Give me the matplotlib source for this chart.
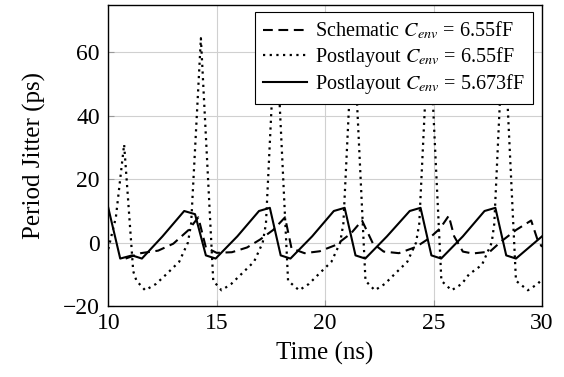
import matplotlib
matplotlib.use("Agg")
import matplotlib.pyplot as plt

plt.rcParams['font.family'] = ['Liberation Serif', 'DejaVu Serif']
plt.rcParams['mathtext.fontset'] = 'stix'

# Schematic C_env = 6.55fF (dashed)
t_sch = [10.8, 11.5, 12.3, 13.0, 13.7, 14.15, 14.5, 15.0, 15.7, 16.4, 17.0, 17.6,
         18.15, 18.45, 19.05, 19.75, 20.5, 21.2, 21.7, 22.2, 22.7, 23.4, 24.2, 24.8,
         25.3, 25.7, 25.95, 26.35, 26.8, 27.6, 28.1, 28.8, 29.5, 29.8, 30.0]
j_sch = [-5, -3.3, -2.5, -0.3, 4, 8, -1.5, -3.2, -3, -1.5, 1, 4,
         8, -1.8, -3.3, -2.7, -0.7, 3, 7, -0.2, -2.8, -3.3, -1.3, 1.4,
         4.5, 8.5, 2, -2.8, -3.4, -2.8, 0.3, 4, 7, 0.8, -1.3]

# Postlayout C_env = 6.55fF (dotted)
t_pl1 = [10.0, 10.35, 10.73, 11.15, 11.3, 11.7,
         12.2, 12.67, 13.27, 13.67, 13.82, 14.27, 14.84, 15.22,
         15.67, 16.12, 16.72, 17.12, 17.27, 17.72, 18.29, 18.8,
         19.25, 19.69, 20.29, 20.69, 20.84, 21.29, 21.86, 22.29,
         22.75, 23.19, 23.79, 24.19, 24.34, 24.79, 25.36, 25.83,
         26.3, 26.63, 27.23, 27.68, 27.8, 28.23, 28.8, 29.35, 29.8, 30.0]
j_pl1 = [-2, 8, 31, -9, -12, -15,
         -13, -10, -6, 0, 6, 64.5, -12, -15,
         -13, -10, -6, 0, 6, 70, -12, -15,
         -13, -10, -6, 0, 6, 70, -12, -15,
         -13, -10, -6, 0, 6, 70, -12, -15,
         -13, -10, -7, 0, 6, 70, -12, -15, -13, -11.5]

# Postlayout C_env = 5.673fF (solid)
t_pl2 = [10.0, 10.55, 11.1, 11.55, 12.5, 13.5, 14.0, 14.5, 14.95, 15.95,
         16.95, 17.45, 17.95, 18.4, 19.4, 20.4, 20.9, 21.4, 21.85, 22.85,
         23.9, 24.4, 24.9, 25.35, 26.35, 27.35, 27.85, 28.35, 28.8, 30.0]
j_pl2 = [11, -5, -4, -5, 2, 10, 9, -4, -5, 2,
         10, 11, -4, -5, 2, 10, 11, -4, -5, 2,
         10, 11, -4, -5, 2, 10, 11, -4, -5, 2]

fig = plt.figure(figsize=(5.64, 3.77), dpi=100)
ax = fig.add_axes([0.192, 0.188, 0.769, 0.799])

ax.plot(t_sch, j_sch, color='black', lw=1.5, linestyle=(0, (4.7, 2.7)),
        label='Schematic $C_{env}$ = 6.55fF')
ax.plot(t_pl1, j_pl1, color='black', lw=1.6, linestyle=(0, (1, 2)),
        label='Postlayout $C_{env}$ = 6.55fF')
ax.plot(t_pl2, j_pl2, color='black', lw=1.5,
        label='Postlayout $C_{env}$ = 5.673fF')

ax.set_xlim(10, 30)
ax.set_ylim(-20, 75)
ax.set_xticks([10, 15, 20, 25, 30])
ax.set_yticks([-20, 0, 20, 40, 60])
ax.grid(True, color='#d0d0d0', lw=0.8)
ax.set_axisbelow(True)
ax.tick_params(direction='in', length=4, color='#999999', labelsize=17)
ax.tick_params(axis='x', pad=5)
ax.tick_params(axis='y', pad=6)
for s in ax.spines.values():
    s.set_linewidth(1.0)

ax.set_xlabel('Time (ns)', fontsize=18, labelpad=6)
ax.set_ylabel('Period Jitter (ps)', fontsize=18, labelpad=12)

leg = ax.legend(loc='upper right', bbox_to_anchor=(0.979, 0.977), fontsize=14.5,
                fancybox=False, framealpha=1, edgecolor='black',
                handlelength=2.2, handletextpad=0.4, borderpad=0.4,
                labelspacing=0.15, borderaxespad=0)
leg.get_frame().set_linewidth(0.8)

fig.savefig('out.png', dpi=100)
